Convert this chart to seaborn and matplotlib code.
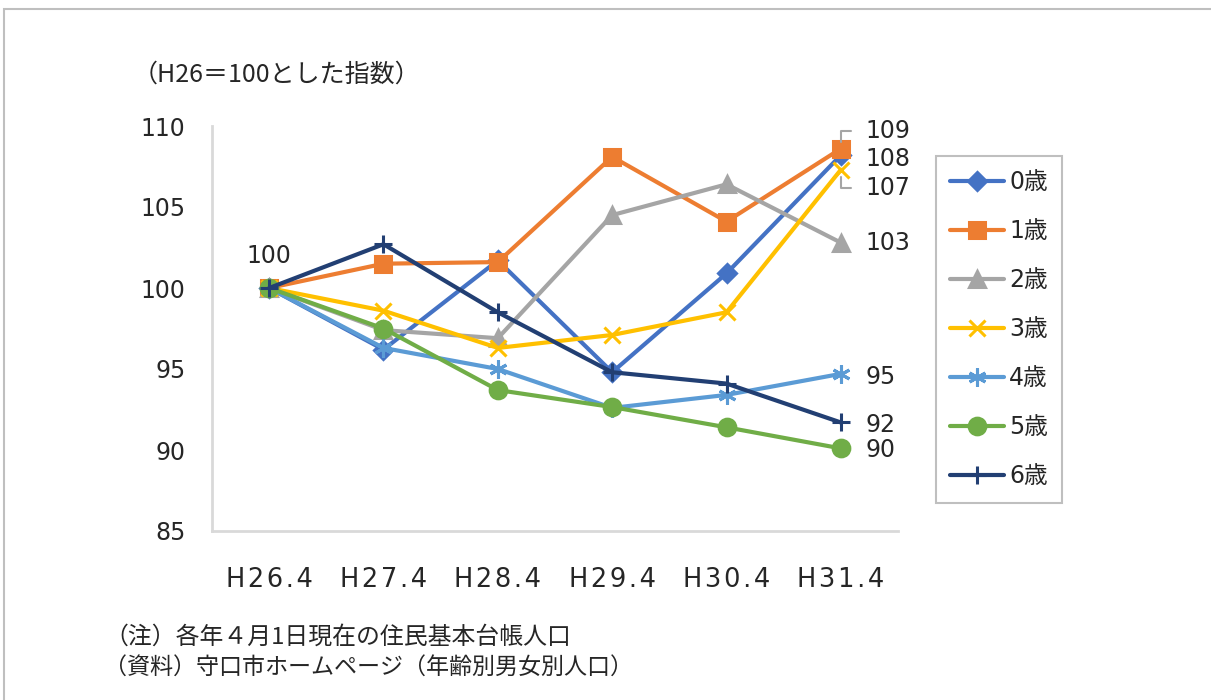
import pandas as pd
import seaborn as sns
import matplotlib.pyplot as plt
from matplotlib.patches import Rectangle

# Index values (H26 = 100).
years = ['H26.4', 'H27.4', 'H28.4', 'H29.4', 'H30.4', 'H31.4']
ages = ['0歳', '1歳', '2歳', '3歳', '4歳', '5歳', '6歳']
age0 = [100, 96.2, 101.7, 94.8, 100.9, 108.2]
age1 = [100, 101.5, 101.6, 108.1, 104.1, 108.6]
age2 = [100, 97.4, 96.9, 104.5, 106.4, 102.8]
age3 = [100, 98.6, 96.3, 97.1, 98.5, 107.3]
age4 = [100, 96.3, 95.0, 92.6, 93.4, 94.7]
age5 = [100, 97.5, 93.7, 92.65, 91.4, 90.1]
age6 = [100, 102.7, 98.5, 94.8, 94.1, 91.7]
series = [age0, age1, age2, age3, age4, age5, age6]

colors = ['#4472C4', '#ED7D31', '#A5A5A5', '#FFC000', '#5B9BD5', '#70AD47', '#223F73']
markers = ['D', 's', '^', 'x', (6, 2, 0), 'o', '+']
msizes = [9, 12, 12, 11, 13, 12, 13]

# Offsets (points) of the end labels from the last point.
end_dy = [-3, 13, 0, -13.5, -2, -1.5, -1.5]

text_color = '#262626'
grid_color = '#D9D9D9'

sns.set_theme(style='white')
latin = ['DejaVu Sans', 'Noto Sans CJK JP']
cjk = ['Noto Sans CJK JP', 'DejaVu Sans']
plt.rcParams['font.family'] = latin

df = pd.DataFrame({'year': years * len(ages),
                   'age': [a for a in ages for _ in years],
                   'value': [v for s in series for v in s]})

fig = plt.figure(figsize=(12.11, 7), dpi=100)
ax = fig.add_axes([212 / 1211, 169 / 700, 686 / 1211, 405 / 700])

for i, age in enumerate(ages):
    sub = df[df['age'] == age]
    sns.lineplot(data=sub, x='year', y='value', ax=ax, color=colors[i],
                 marker=markers[i], markersize=msizes[i], linewidth=3,
                 markeredgecolor=colors[i], markeredgewidth=2.2, label=age)

ax.set_xlim(-0.5, 5.5)
ax.set_ylim(85, 110)
ax.set_yticks([85, 90, 95, 100, 105, 110])
# the x labels are letter-spaced in the original
ax.set_xticks(range(len(years)))
ax.set_xticklabels(['\u200a'.join(y) for y in years])
ax.set_xlabel('')
ax.set_ylabel('')
sns.despine(ax=ax)
for side in ['left', 'bottom']:
    ax.spines[side].set_color(grid_color)
    ax.spines[side].set_linewidth(2)
ax.tick_params(axis='both', length=0, labelsize=17, colors=text_color)
ax.tick_params(axis='x', labelsize=18.5, pad=26)
ax.tick_params(axis='y', pad=19)
for lab in ax.get_xticklabels() + ax.get_yticklabels():
    lab.set_family('DejaVu Sans')

# Data labels
ax.annotate('100', xy=(years[0], series[0][0]), xytext=(0, 23),
            textcoords='offset points', ha='center', va='center',
            fontsize=17, color=text_color, family='DejaVu Sans')
for i, s in enumerate(series):
    kw = {}
    if i in (1, 3):
        kw['arrowprops'] = dict(arrowstyle='-', color='#A5A5A5', lw=1.5,
                                connectionstyle='angle,angleA=0,angleB=90,rad=0',
                                relpos=(0, 0.5), shrinkA=8, shrinkB=5)
    ax.annotate(str(round(s[-1])), xy=(years[-1], s[-1]), xytext=(18, end_dy[i]),
                textcoords='offset points', ha='left', va='center',
                fontsize=17, color=text_color, family='DejaVu Sans', **kw)

leg = ax.legend(loc='upper left', bbox_to_anchor=(936 / 1211, 1 - 156 / 700),
                bbox_transform=fig.transFigure, borderaxespad=0, fontsize=17,
                handlelength=2.3, handletextpad=0.2, labelspacing=1.06,
                borderpad=0.6, fancybox=False, framealpha=1)
leg.get_frame().set_edgecolor('#BFBFBF')
leg.get_frame().set_linewidth(1.5)
for t in leg.get_texts():
    t.set_color(text_color)
    t.set_family(latin)

fig.text(133 / 1211, 1 - 75 / 700, '（H26＝100とした指数）', family=cjk,
         fontsize=18, color=text_color, ha='left', va='center')
fig.text(104 / 1211, 1 - 637 / 700, '（注）各年４月1日現在の住民基本台帳人口', family=cjk,
         fontsize=17.2, color=text_color, ha='left', va='center')
fig.text(104 / 1211, 1 - 667 / 700, '（資料）守口市ホームページ（年齢別男女別人口）', family=cjk,
         fontsize=16.6, color=text_color, ha='left', va='center')

# outer frame (top and left edges visible)
fig.add_artist(Rectangle((4 / 1211, -0.1), 1.5, 1.1 - 9 / 700, transform=fig.transFigure,
                         fill=False, edgecolor='#BFBFBF', linewidth=1.5))

fig.savefig('out.png', dpi=100)
